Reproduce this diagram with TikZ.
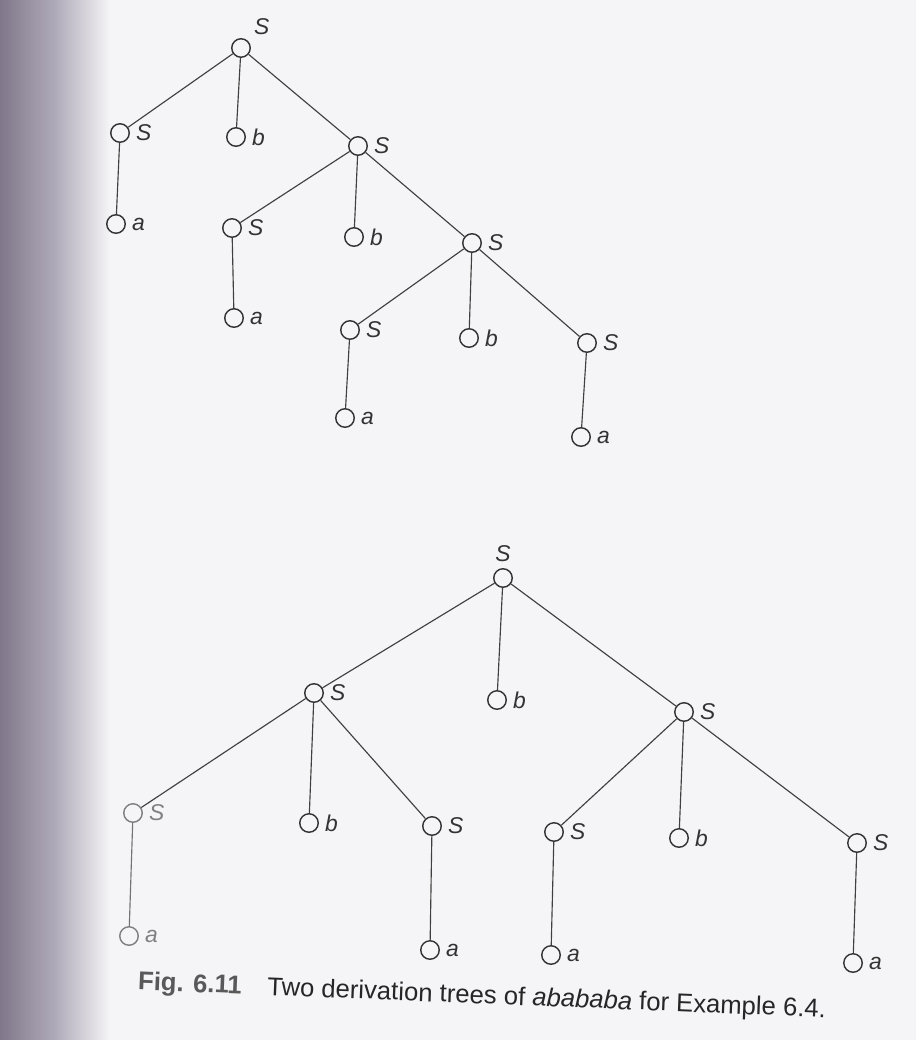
\documentclass[tikz,border=0pt]{standalone}
\usepackage{fontspec}
\setmainfont{Liberation Sans}
\usepackage{tikz}
\usetikzlibrary{positioning}
\definecolor{edgedark}{RGB}{128,120,138}
\definecolor{edgemid}{RGB}{175,170,185}
\definecolor{paper}{RGB}{245,244,246}

\begin{document}
\begin{tikzpicture}[x=0.02cm, y=-0.02cm,
  nd/.style={circle, draw=black!80, line width=0.8pt, minimum size=0.37cm, inner sep=0pt},
  lbl/.style={font=\itshape\fontsize{13}{15}\selectfont, text=black!80, label distance=0pt},
  edge/.style={draw=black!75, line width=0.65pt}]

% page
\useasboundingbox (0,0) rectangle (916,1040);
\fill[paper] (0,0) rectangle (916,1040);
\shade[left color=edgedark, right color=edgemid] (0,0) rectangle (55,1040);
\shade[left color=edgemid, right color=paper] (55,0) rectangle (110,1040);

% first tree
\node[nd, label={[lbl]above right:S}] (r)  at (241,48)  {};
\node[nd, label={[lbl]right:S}] (s1) at (120,133) {};
\node[nd, label={[lbl]right:b}] (b1) at (236,137) {};
\node[nd, label={[lbl]right:S}] (s2) at (358,146) {};
\node[nd, label={[lbl]right:a}] (a1) at (116,224) {};
\node[nd, label={[lbl]right:S}] (s3) at (232,228) {};
\node[nd, label={[lbl]right:b}] (b2) at (354,237) {};
\node[nd, label={[lbl]right:S}] (s4) at (472,243) {};
\node[nd, label={[lbl]right:a}] (a2) at (234,318) {};
\node[nd, label={[lbl]right:S}] (s5) at (350,330) {};
\node[nd, label={[lbl]right:b}] (b3) at (469,338) {};
\node[nd, label={[lbl]right:S}] (s6) at (587,343) {};
\node[nd, label={[lbl]right:a}] (a3) at (345,418) {};
\node[nd, label={[lbl]right:a}] (a4) at (581,437) {};

\draw[edge] (r) -- (s1) (r) -- (b1) (r) -- (s2);
\draw[edge] (s1) -- (a1);
\draw[edge] (s2) -- (s3) (s2) -- (b2) (s2) -- (s4);
\draw[edge] (s3) -- (a2);
\draw[edge] (s4) -- (s5) (s4) -- (b3) (s4) -- (s6);
\draw[edge] (s5) -- (a3);
\draw[edge] (s6) -- (a4);

% second tree
\node[nd, label={[lbl]above:S}] (rr) at (503,578) {};
\node[nd, label={[lbl]right:S}] (t1) at (314,693) {};
\node[nd, label={[lbl]right:b}] (t2) at (497,700) {};
\node[nd, label={[lbl]right:S}] (t3) at (684,712) {};
\node[nd, draw=black!50, label={[lbl, text=black!50]right:S}] (t4) at (133,813) {};
\node[nd, label={[lbl]right:b}] (t5) at (309,823) {};
\node[nd, label={[lbl]right:S}] (t6) at (432,826) {};
\node[nd, label={[lbl]right:S}] (t7) at (554,832) {};
\node[nd, label={[lbl]right:b}] (t8) at (679,838) {};
\node[nd, label={[lbl]right:S}] (t9) at (857,843) {};
\node[nd, draw=black!50, label={[lbl, text=black!50]right:a}] (t10) at (129,936) {};
\node[nd, label={[lbl]right:a}] (t11) at (430,950) {};
\node[nd, label={[lbl]right:a}] (t12) at (551,955) {};
\node[nd, label={[lbl]right:a}] (t13) at (853,963) {};

\draw[edge] (rr) -- (t1) (rr) -- (t2) (rr) -- (t3);
\draw[edge] (t1) -- (t4) (t1) -- (t5) (t1) -- (t6);
\draw[edge] (t3) -- (t7) (t3) -- (t8) (t3) -- (t9);
\draw[edge, draw=black!55] (t4) -- (t10);
\draw[edge] (t6) -- (t11);
\draw[edge] (t7) -- (t12);
\draw[edge] (t9) -- (t13);

% caption
\node[anchor=west, rotate=-2.3, text=black!85, font=\fontsize{14.6}{17}\selectfont] (cap) at (132,983)
  {{\bfseries\color{black!65}Fig. 6.11}\quad Two derivation trees of \textit{abababa} for Example 6.4.};

\end{tikzpicture}
\end{document}
